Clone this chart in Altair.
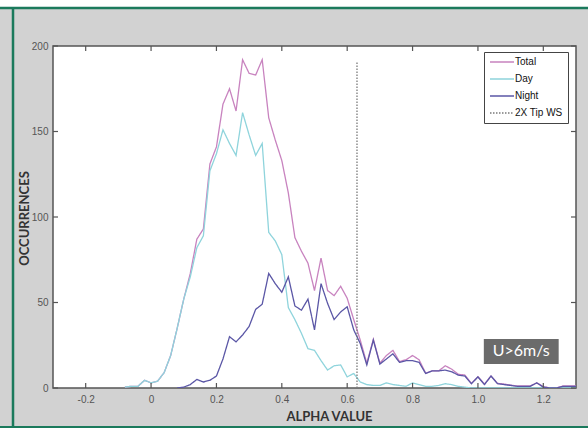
import altair as alt
import pandas as pd

# ---------------- data ----------------
alpha = [round(-0.08 + 0.02 * i, 2) for i in range(70)]  # bin centres -0.08 .. 1.30

total = [0.5, 1, 1, 4.5, 3, 4, 9, 19, 35, 52, 67, 87, 93, 131, 141, 166, 175, 162,
         192, 184, 183, 192, 158, 145, 133, 114, 88, 80, 73, 57, 76, 57, 54, 59.5,
         52.5, 40, 28, 14.5, 28.5, 14.5, 19, 22, 15.5, 16.5, 19, 16.5, 8.7, 10, 10,
         13, 11, 8, 7.6, 2.7, 6.6, 2.3, 7, 2.7, 2.3, 1.7, 1.2, 1.2, 1.2, 3, 0.8, 0,
         0, 1.2, 1.2, 1.2]

day = [0.5, 1, 1, 4.5, 3, 4, 9, 19, 35, 52, 65, 82, 89, 127, 137, 151, 143, 136,
       161, 148, 136, 143, 91, 86, 78, 47, 40, 32, 23, 22, 16, 10.5, 13, 13.5, 6.5,
       8.5, 3.5, 2, 1.5, 1.5, 3, 2, 1.5, 1, 3, 2, 1, 1, 1.5, 2.5, 2, 1, 0.5, 0, 0,
       0, 0, 0, 0, 0, 0, 0, 0, 0, 0, 0, 0, 0, 0, 0]

night = [None] * 8 + [0, 0.5, 2, 5, 3.5, 4.5, 7, 17, 30, 27, 31, 36, 46, 49, 67, 61,
                      56, 65, 48, 45.5, 52, 34, 61, 49.5, 40, 44.5, 47.5, 34, 26,
                      13.5, 28, 14, 17, 20, 15, 16, 16, 15, 8.5, 10, 10, 10.5, 9.5,
                      7.5, 7, 2.5, 6.5, 2, 7, 2.5, 2, 1.5, 1, 1, 1, 3, 0.5, 0, 0,
                      1, 1, 1]

tip_ws_alpha = 0.63
tip_ws_counts = [0, 191]

series_names = ["Total", "Day", "Night", "2X Tip WS"]
series_colors = ["#c883bf", "#8fd4dc", "#5b57a6", "#7a7a7a"]
series_dash = [[1, 0], [1, 0], [1, 0], [1.5, 1.5]]

x_ticks = [-0.2, 0, 0.2, 0.4, 0.6, 0.8, 1.0, 1.2]
y_ticks = [0, 50, 100, 150, 200]
x_domain = [-0.3, 1.3]
y_domain = [0, 200]

note_text = "U>6m/s"
note_x, note_x2 = 1.018, 1.247
note_y, note_y2 = 14, 28.7

# ---------------- layout ----------------
W, H = 523, 342
PAD_L, PAD_T, PAD_R, PAD_B = 53, 46, 12, 40
BG = "#d2d2d2"
GREEN = "#1b7a5c"
AXIS_GREY = "#555555"

rows = []
idx = 0
for name, vals in (("Total", total), ("Day", day), ("Night", night)):
    for a, v in zip(alpha, vals):
        if v is None:
            continue
        rows.append({"alpha": a, "count": v, "series": name, "idx": idx})
        idx += 1
for v in tip_ws_counts:
    rows.append({"alpha": tip_ws_alpha, "count": v, "series": "2X Tip WS", "idx": idx})
    idx += 1
df = pd.DataFrame(rows)

legend_kw = dict(
    title=None, orient="none", legendX=431, legendY=6,
    fillColor="white", strokeColor="#444444", padding=5,
    symbolType="M-1,0H5", symbolSize=64, symbolStrokeWidth=1.4,
    labelFont="Liberation Sans", labelFontSize=10, labelColor="#111111",
    rowPadding=7, labelOffset=16,
)

x_enc = alt.X(
    "alpha:Q",
    scale=alt.Scale(domain=x_domain, nice=False, zero=False),
    axis=alt.Axis(
        values=x_ticks, ticks=False, domain=False, grid=False,
        labelExpr="datum.value == 0 ? '0' : (datum.value < 0 ? '-' + format(-datum.value, '.1f') : format(datum.value, '.1f'))",
        labelFont="Liberation Sans", labelFontSize=10, labelColor=AXIS_GREY,
        labelPadding=6, title="ALPHA VALUE", titleFont="Lato",
        titleFontWeight="bold", titleFontSize=13, titleColor="#333333",
        titleX=276, titleY=28, titleBaseline="middle", titleAlign="center",
    ),
)
y_enc = alt.Y(
    "count:Q",
    scale=alt.Scale(domain=y_domain, nice=False),
    axis=alt.Axis(
        values=y_ticks, ticks=False, domain=False, grid=False,
        labelFont="Liberation Sans", labelFontSize=10, labelColor=AXIS_GREY,
        labelPadding=5, title="OCCURRENCES", titleFont="Lato",
        titleFontWeight="bold", titleFontSize=13, titleColor="#333333",
        titleX=-29, titleY=172, titleBaseline="middle", titleAlign="center",
    ),
)

lines = alt.Chart(df).mark_line(strokeWidth=1.3, clip=True).encode(
    x=x_enc,
    y=y_enc,
    color=alt.Color("series:N",
                    scale=alt.Scale(domain=series_names, range=series_colors),
                    legend=alt.Legend(**legend_kw)),
    strokeDash=alt.StrokeDash("series:N",
                              scale=alt.Scale(domain=series_names, range=series_dash),
                              legend=alt.Legend(**legend_kw)),
    order="idx:Q",
)

# inward tick marks on all four sides
xt = pd.DataFrame({"v": x_ticks})
yt = pd.DataFrame({"v": y_ticks})
tick_style = dict(color=AXIS_GREY, strokeWidth=1.2)
bottom_ticks = alt.Chart(xt).mark_rule(**tick_style).encode(
    x="v:Q", y=alt.value(H), y2=alt.value(H - 5))
top_ticks = alt.Chart(xt).mark_rule(**tick_style).encode(
    x="v:Q", y=alt.value(0), y2=alt.value(5))
left_ticks = alt.Chart(yt).mark_rule(**tick_style).encode(
    y="v:Q", x=alt.value(0), x2=alt.value(5))
right_ticks = alt.Chart(yt).mark_rule(**tick_style).encode(
    y="v:Q", x=alt.value(W), x2=alt.value(W - 5))

# annotation box
note_df = pd.DataFrame({"x": [note_x], "x2": [note_x2], "y": [note_y], "y2": [note_y2],
                        "xc": [(note_x + note_x2) / 2], "yc": [(note_y + note_y2) / 2],
                        "t": [note_text]})
note_box = alt.Chart(note_df).mark_rect(color="#6b6b6b").encode(
    x="x:Q", x2="x2", y="y:Q", y2="y2")
note_label = alt.Chart(note_df).mark_text(
    color="white", font="Lato", fontSize=16, align="center", baseline="middle"
).encode(x="xc:Q", y="yc:Q", text="t:N")

# page frame decorations (white strip + green border lines)
one = pd.DataFrame({"a": [0]})
white_strip = alt.Chart(one).mark_rect(color="white").encode(
    x=alt.value(-PAD_L), x2=alt.value(W + PAD_R),
    y=alt.value(-PAD_T), y2=alt.value(-PAD_T + 7))
green_top = alt.Chart(one).mark_rule(color=GREEN, strokeWidth=2.5).encode(
    x=alt.value(-PAD_L), x2=alt.value(W + PAD_R), y=alt.value(-PAD_T + 8))
green_left = alt.Chart(one).mark_rule(color=GREEN, strokeWidth=2.5).encode(
    x=alt.value(-PAD_L + 13), y=alt.value(-PAD_T + 8), y2=alt.value(H + PAD_B))
green_bottom = alt.Chart(one).mark_rule(color=GREEN, strokeWidth=2).encode(
    x=alt.value(-PAD_L), x2=alt.value(W + PAD_R), y=alt.value(H + PAD_B - 1))

chart = alt.layer(
    white_strip, green_top, green_left, green_bottom,
    lines, note_box, note_label,
    bottom_ticks, top_ticks, left_ticks, right_ticks,
).properties(
    width=W, height=H,
    background=BG,
    padding={"left": PAD_L, "top": PAD_T, "right": PAD_R, "bottom": PAD_B},
    autosize=alt.AutoSizeParams(type="none"),
).configure_view(
    fill="white", stroke="#555555", strokeWidth=1.5
)

chart.save("out.html", embed_options={"renderer": "svg", "actions": False})
